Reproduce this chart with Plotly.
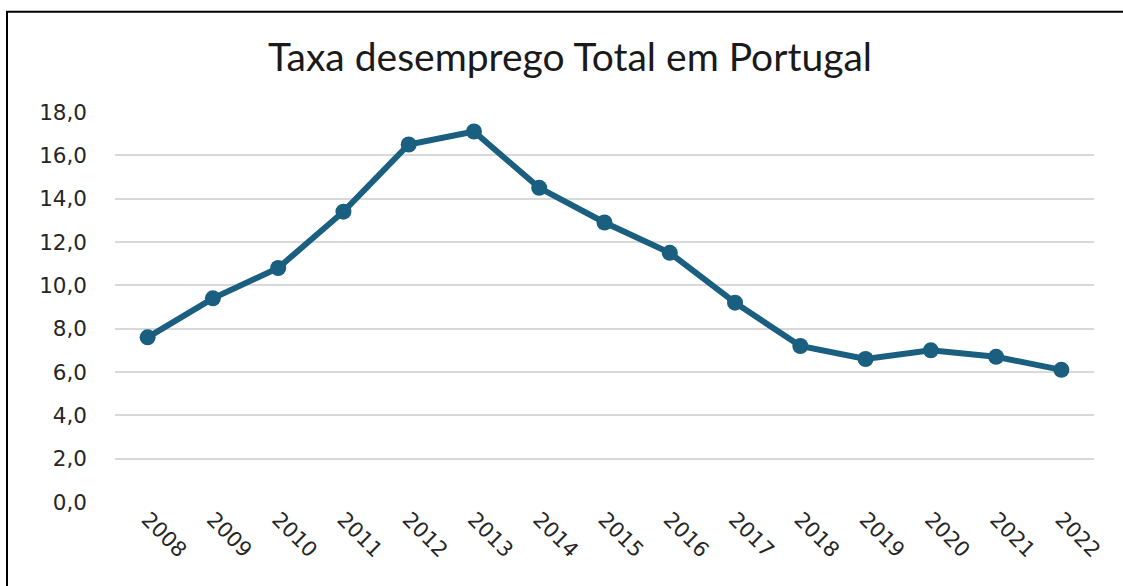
import plotly.graph_objects as go

years = ["2008", "2009", "2010", "2011", "2012", "2013", "2014", "2015",
         "2016", "2017", "2018", "2019", "2020", "2021", "2022"]
taxa = [7.6, 9.4, 10.8, 13.4, 16.5, 17.1, 14.5, 12.9, 11.5, 9.2, 7.2, 6.6, 7.0, 6.7, 6.1]
y_ticks = [0, 2, 4, 6, 8, 10, 12, 14, 16, 18]
y_tick_labels = ["0,0", "2,0", "4,0", "6,0", "8,0", "10,0", "12,0", "14,0", "16,0", "18,0"]

W, H = 1123, 586
L, R, T, B = 115, 29, 112, 83.5
pw = W - L - R
ph = H - T - B

def px(x):
    return (x - L) / pw

def py(y):
    return (H - B - y) / ph

color = "#1a5f80"

fig = go.Figure()
fig.add_trace(go.Scatter(
    x=years, y=taxa, mode="lines+markers",
    line=dict(color=color, width=6),
    marker=dict(color=color, size=16),
    showlegend=False, hoverinfo="x+y",
))

fig.update_layout(
    width=W, height=H,
    margin=dict(l=L, r=R, t=T, b=B),
    paper_bgcolor="white", plot_bgcolor="white",
    title=dict(text="Taxa desemprego Total em Portugal",
               x=570 / W, xref="container", xanchor="center",
               y=1 - 57 / H, yref="container", yanchor="middle",
               font=dict(family="Lato, Noto Sans, sans-serif", size=39, color="#1a1a1a")),
    xaxis=dict(type="category", range=[-0.5, len(years) - 0.5],
               showgrid=False, zeroline=False, showline=False,
               tickangle=45, ticks="",
               tickfont=dict(family="DejaVu Sans", size=21, color="#262626")),
    yaxis=dict(range=[0, 18], tickvals=y_ticks, ticktext=y_tick_labels,
               showgrid=True, gridcolor="#d9d9d9", gridwidth=1.5,
               zeroline=False, showline=False, ticks="",
               ticklabelstandoff=27,
               tickfont=dict(family="DejaVu Sans", size=21.5, color="#262626")),
    shapes=[dict(type="rect", xref="paper", yref="paper",
                 x0=px(7), x1=px(1135), y0=py(600), y1=py(11.5),
                 line=dict(color="black", width=2), fillcolor="rgba(0,0,0,0)",
                 layer="below")],
)

fig.write_html("out.html", config={"displayModeBar": False},
               post_script="document.body.style.margin='0';")
